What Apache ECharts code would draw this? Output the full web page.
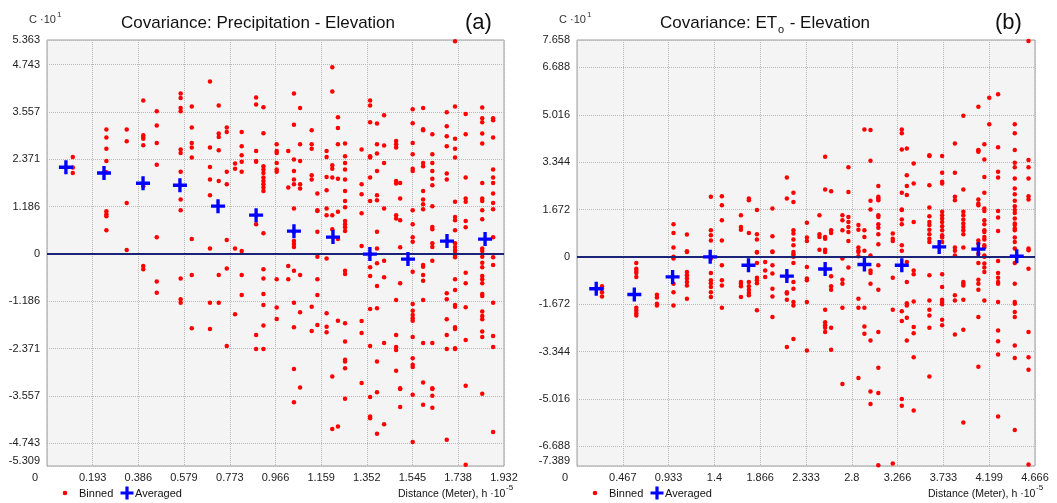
<!DOCTYPE html>
<html><head><meta charset="utf-8">
<script src="https://cdn.jsdelivr.net/npm/echarts@6/dist/echarts.min.js"></script>
<style>html,body{margin:0;padding:0;background:#fff}#c{width:1057px;height:503px}</style>
</head><body><div id="c"></div>
<script>
// ---------- tick labels ----------
const xTicksA = [0, 0.193, 0.386, 0.579, 0.773, 0.966, 1.159, 1.352, 1.545, 1.738, 1.932];
const yTicksA = [-5.309, -4.743, -3.557, -2.371, -1.186, 0, 1.186, 2.371, 3.557, 4.743, 5.363];
const xTicksB = [0, 0.467, 0.933, 1.4, 1.866, 2.333, 2.8, 3.266, 3.733, 4.199, 4.666];
const yTicksB = [-7.389, -6.688, -5.016, -3.344, -1.672, 0, 1.672, 3.344, 5.016, 6.688, 7.658];

// ---------- panel (a): Precipitation - Elevation ----------
// binned points, grouped by lag column: [distance, [covariances...]]
const binnedA = [
  [0.109, [2.43, 2.17, 2.03]],
  [0.251, [3.12, 2.92, 2.64, 2.33, 2.05, 1.075, 1.0, 0.95, 0.6]],
  [0.337, [3.12, 2.825, 1.28, 0.1]],
  [0.407, [3.85, 2.975, 2.93, 2.89, 2.725, 1.7, -0.3, -0.38]],
  [0.464, [3.58, 3.22, 2.78, 2.24, 0.42, -0.69, -0.97]],
  [0.565, [4.02, 3.91, 3.66, 3.58, 2.62, 2.53, 2.06, 1.37, 1.1, -0.61, -1.13, -1.22]],
  [0.612, [3.7, 3.17, 2.78, 2.67, 2.42, 0.375, -0.525, -1.86]],
  [0.689, [4.325, 2.67, 2.18, 1.87, 1.475, 0.14, -1.22, -1.88]],
  [0.726, [3.725, 3.02, 2.93, 2.6, 1.83, -0.525, -1.22]],
  [0.760, [3.17, 3.06, 2.06, 1.75, 0.35, -0.36, -2.3]],
  [0.795, [2.27, 2.14, 0.14, -1.51]],
  [0.823, [3.06, 2.7, 2.475, 2.31, 2.06, 0.08, -0.525, -1.025]],
  [0.884, [3.925, 3.75, 2.58, 2.33, 2.31, 0.75, -2.03, -2.38]],
  [0.915, [3.68, 3.03, 2.2, 2.12, 2.03, 1.92, 1.83, 1.75, 1.67, 1.58, 0.52, -0.38, -0.61, -1.0, -1.275, -1.79, -2.38]],
  [0.971, [2.75, 2.58, 2.53, 2.28, 2.12, 2.06, -0.63, -1.34, -1.625]],
  [1.020, [2.58, 1.67, -0.3, -0.63]],
  [1.044, [4.02, 3.24, 2.37, 2.08, 1.87, 1.75, 1.14, 0.56, 0.33, 0.25, 0.18, -0.42, -1.22, -1.83, -2.88, -3.71]],
  [1.070, [3.66, 2.75, 2.33, 1.75, 1.64, -0.525, -1.46, -3.34]],
  [1.119, [3.1, 2.75, 2.64, 1.975, 1.87, -1.32, -1.925]],
  [1.143, [1.52, 1.1, 1.08, 0.56, -0.07, -0.63, -1.025, -1.775]],
  [1.182, [2.58, 2.43, 1.93, 1.6, 1.14, 0.975, -0.11, -1.48, -1.82, -1.96]],
  [1.206, [4.68, 4.075, 2.225, 2.14, 1.92, 0.975, 0.62, -3.07, -4.38]],
  [1.230, [3.43, 3.16, 2.75, 1.89, 1.06, 0.375, -1.67, -4.32]],
  [1.260, [2.77, 2.45, 2.28, 2.12, 1.87, 1.58, 1.33, 1.17, 0.83, 0.75, 0.67, 0.58, -0.42, -0.5, -1.73, -2.19, -2.65, -2.69, -2.86, -3.625]],
  [1.330, [2.62, 1.75, 1.5, 1.02, 0.2, -1.675, -1.98, -3.23]],
  [1.366, [3.85, 3.725, 3.3, 2.45, 2.42, 1.92, 1.33, 0, -0.33, -0.55, -1.375, -2.3, -3.58, -4.07, -4.11]],
  [1.395, [3.27, 2.75, 2.52, 2.08, 1.475, 1.35, 0.56, 0.14, -0.23, -0.8, -1.36, -2.69, -3.46, -4.5]],
  [1.425, [3.475, 2.72, 2.28, 1.14, -0.17, -0.58, -2.23, -4.26]],
  [1.476, [2.83, 2.75, 2.67, 1.83, 1.77, 0.975, 0.89, -1.15, -2.03, -2.33, -2.4, -2.92]],
  [1.493, [1.78, 1.39, 0.85, 0.17, -0.73, -3.36, -3.38, -3.83]],
  [1.546, [3.63, 3.28, 2.78, 2.5, 2.14, 2.08, 1.1, 0.75, 0.42, 0.31, -0.44, -1.25, -1.42, -1.525, -1.61, -1.67, -2.08, -2.61, -2.775, -2.83, -3.525, -4.71]],
  [1.590, [3.66, 3.13, 3.1, 2.28, 2.2, 1.58, 1.37, 1.25, 1.12, -0.275, -0.32, -0.525, -0.67, -1.15, -2.23, -3.775, -3.22]],
  [1.629, [3.0, 2.5, 2.28, 2.08, 1.89, 1.725, 1.2, 0.68, 0.62, 0.27, 0.18, -0.17, -2.23, -3.36, -3.38, -3.55, -3.85]],
  [1.690, [3.55, 3.2, 2.95, 2.7, 2.02, 1.87, -0.98, -1.13, -1.63, -2.03, -2.38, -4.65]],
  [1.725, [5.33, 3.7, 2.89, 2.64, 2.42, 1.31, 0.93, 0.85, 0.6, 0.27, 0.18, 0.08, 0, -0.05, 0.1, -0.08, -0.63, -0.9, -1.275, -1.32, -1.83, -1.88, -2.36, -2.38]],
  [1.770, [3.51, 3.0, 1.92, 1.39, 1.31, 0.83, 0.67, -0.47, -0.73, -1.33, -2.15, -3.3, -5.28]],
  [1.840, [3.67, 3.4, 3.3, 3.02, 2.77, 1.78, 1.39, 1.33, 1.1, 0.87, 0.14, 0.08, -0.07, -0.22, -0.33, -0.55, -0.63, -0.73, -1.0, -1.05, -1.44, -1.55, -1.63, -1.94, -2.08, -3.5]],
  [1.886, [3.4, 3.35, 2.92, 2.12, 1.92, 1.78, 1.52, 1.28, 1.12, 0.42, -0.08, -0.275, -1.22, -2.05, -2.33, -4.46]]
];
const avgXA = [0.080, 0.241, 0.406, 0.562, 0.723, 0.884, 1.044, 1.209, 1.365, 1.526, 1.691, 1.852];
const avgYA = [2.175, 2.03, 1.775, 1.725, 1.2, 0.975, 0.575, 0.425, 0.0, -0.125, 0.325, 0.375];

// ---------- panel (b): ETo - Elevation ----------
const binnedB = [
  [0.255, [-1.04, -1.13, -1.25, -1.4]],
  [0.604, [-0.22, -0.42, -0.5, -0.57, -0.71, -1.8, -1.9, -1.99, -2.07]],
  [0.814, [-1.34, -1.44, -1.66, -1.72]],
  [0.983, [1.15, 0.84, 0.33, 0.0, -0.06, -0.95, -1.25, -1.72]],
  [1.120, [0.79, 0.2, 0.17, -0.54, -0.65, -0.77, -0.89, -1.01, -1.48]],
  [1.364, [2.12, 0.94, 0.76, 0.58, -0.06, -0.57, -0.83, -0.93, -1.07, -1.25, -1.42]],
  [1.476, [2.14, 1.82, 1.29, 0.58, -0.3, -0.83, -1.01, -1.8]],
  [1.670, [1.47, 1.05, 0.96, -0.89, -0.95, -1.04, -1.42]],
  [1.751, [2.06, 2.0, 0.84, -0.89, -1.04, -1.16, -1.28, -1.36]],
  [1.833, [1.65, 0.8, 0.61, 0.15, 0.17, -0.22, -0.74, -0.83, -0.93, -1.89]],
  [1.917, [-0.18, -0.48, -0.71]],
  [1.991, [1.71, 0.73, 0.19, 0.17, -0.3, -0.59, -1.13, -1.4, -2.13]],
  [2.138, [2.8, 2.06, -0.71, -1.25, -1.3, -1.52, -3.19]],
  [2.205, [2.26, 1.94, 0.94, 0.82, 0.61, 0.41, 0.17, 0.0, 0.09, -0.22, -0.89, -1.13, -1.6, -1.72, -2.9]],
  [2.342, [1.2, 0.68, 0.56, -0.36, -0.77, -0.83, -1.6, -3.31]],
  [2.470, [1.47, 0.8, 0.7, 0.25]],
  [2.528, [3.53, 2.38, 0.7, 0.64, 0.25, 0.17, -1.87, -2.31, -2.42, -2.51, -2.66]],
  [2.589, [2.32, 0.94, 0.84, -0.69, -1.04, -1.16, -2.51, -3.28]],
  [2.704, [1.47, 1.29, 0.94, -0.06, -0.81, -0.95, -1.8, -4.49]],
  [2.765, [3.16, 2.29, 1.41, 1.23, 1.05, 0.88, 0.56, -0.38]],
  [2.867, [1.12, 0.96, 0.33, 0.21, 0.17, 0.02, -1.48, -1.8, -4.28]],
  [2.928, [4.5, 0.94, 0.7, 0.21, -1.8, -2.46, -2.72]],
  [2.990, [4.48, 3.39, 1.98, 1.67, 0.05, -0.48, -0.57, -0.95, -2.96, -4.76, -5.2]],
  [3.070, [2.5, 2.12, 2.06, 2.0, 1.47, 1.41, 1.15, 1.03, 0.8, 0.44, -0.3, -1.16, -2.66, -3.92, -4.81, -7.36]],
  [3.217, [0.82, 0.64, 0.56, -0.74, -1.87, -7.3]],
  [3.309, [4.5, 4.36, 3.79, 2.26, 1.67, 1.65, 1.32, 1.15, 0.41, 0.21, -1.92, -2.27, -5.02, -5.26]],
  [3.360, [3.83, 2.88, 2.5, 2.18, -0.18, -0.89, -1.64, -1.72, -2.15, -2.96]],
  [3.430, [3.3, 2.59, 1.23, -0.48, -0.62, -1.58, -2.48, -2.7, -3.55, -5.43]],
  [3.590, [3.59, 3.56, 2.53, 1.74, 1.43, 1.23, 1.12, 0.96, 0.8, 0.64, 0.52, -0.65, -1.54, -1.87, -2.07, -2.51, -4.23]],
  [3.720, [3.56, 2.97, 2.65, 2.59, 1.59, 1.47, 1.35, 1.23, 1.08, 0.94, 0.76, 0.68, 0.52, -0.62, -1.07, -1.52, -1.6, -1.68, -2.22, -2.42]],
  [3.850, [4.0, 2.97, 2.12, 2.0, 0.33, 0.21, 0.05, -1.36, -1.54, -2.74]],
  [3.936, [4.98, 2.38, 1.59, 1.47, 1.32, 1.18, 1.05, 0.94, 0.8, 0.33, -0.89, -0.95, -1.01, -1.52, -2.58, -5.85]],
  [4.089, [5.3, 3.77, 3.75, 3.71, 2.02, 1.88, 1.82, 0.58, 0.47, 0.11, -0.22, -0.81, -0.95, -1.16, -2.13, -3.88]],
  [4.150, [3.98, 3.44, 2.82, 2.26, 1.71, 1.62, 1.29, 1.15, 0.94, 0.88, 0.7, 0.61, 0.41, 0.33, 0.05, 0.0, -0.24, -0.38, -0.54, -1.54]],
  [4.200, [5.62, 4.68]],
  [4.290, [5.74, 3.87, 3.0, 2.8, 1.62, 1.39, 0.91, -0.15, -0.57, -0.74, -0.89, -0.95, -1.6, -2.6, -2.98, -3.45, -5.64]],
  [4.460, [4.68, 4.36, 3.77, 3.32, 3.16, 2.77, 2.41, 2.21, 1.98, 1.79, 1.65, 1.55, 1.35, 1.18, 1.12, 1.0, 0.94, 0.68, 0.52, 0.29, -0.22, -0.95, -1.6, -1.66, -1.95, -2.13, -3.13, -3.57, -6.12]],
  [4.600, [7.62, 3.42, 3.16, 2.77, 2.14, 2.02, 0.29, 0.23, -0.42, -2.66, -3.55, -3.99, -7.34]]
];
const avgXB = [0.196, 0.584, 0.974, 1.357, 1.747, 2.138, 2.528, 2.928, 3.309, 3.690, 4.089, 4.480];
const avgYB = [-1.13, -1.33, -0.71, 0.0, -0.3, -0.68, -0.43, -0.27, -0.3, 0.35, 0.27, 0.02];

// ---------- build ----------
const FONT = 'Liberation Sans, Arial, sans-serif';
const LBL = '#222';
const PLUS = 'path://M3.8,0H6.2V3.8H10V6.2H6.2V10H3.8V6.2H0V3.8H3.8Z';

function flatten(cols) {
  const out = [];
  cols.forEach(c => c[1].forEach(y => out.push([c[0], y])));
  return out;
}
function zip(xs, ys) { return xs.map((x, i) => [x, ys[i]]); }

function xAxis(gi, ticks) {
  return {
    type: 'value', gridIndex: gi, min: ticks[0], max: ticks[ticks.length - 1],
    axisLine: { show: false }, axisTick: { show: false, customValues: ticks },
    axisLabel: {
      customValues: ticks, margin: 6, fontSize: 11, color: LBL, fontFamily: FONT,
      formatter: v => (v === 0 ? '{z|0}' : String(v)),
      rich: { z: { padding: [0, 24, 0, 0], fontSize: 11, color: LBL, fontFamily: FONT } }
    },
    splitLine: { show: true, lineStyle: { color: '#b9b9b9', type: 'dotted', width: 1 } }
  };
}
function yAxis(gi, ticks) {
  const mn = ticks[0];
  return {
    type: 'value', gridIndex: gi, min: mn, max: ticks[ticks.length - 1],
    axisLine: { show: false }, axisTick: { show: false, customValues: ticks },
    axisLabel: {
      customValues: ticks, margin: 7, fontSize: 11, color: LBL, fontFamily: FONT,
      formatter: v => (v === mn ? '{m|' + v + '}' : String(v)),
      rich: { m: { padding: [0, 0, 10, 0], fontSize: 11, color: LBL, fontFamily: FONT } }
    },
    splitLine: { show: true, lineStyle: { color: '#b9b9b9', type: 'dotted', width: 1 } }
  };
}
function binnedSeries(gi, data) {
  return {
    name: 'Binned', type: 'scatter', xAxisIndex: gi, yAxisIndex: gi, data: data,
    symbol: 'circle', symbolSize: 4.5, itemStyle: { color: '#ff0000', opacity: 1 }, z: 3,
    markLine: {
      silent: true, symbol: ['none', 'none'], label: { show: false },
      lineStyle: { color: '#1b2378', width: 2, type: 'solid', opacity: 1 }, data: [{ yAxis: 0 }]
    }
  };
}
function avgSeries(gi, data) {
  return {
    name: 'Averaged', type: 'scatter', xAxisIndex: gi, yAxisIndex: gi, data: data,
    symbol: PLUS, symbolSize: 14, itemStyle: { color: '#0000ff', opacity: 1 }, z: 5
  };
}
function txt(x, y, s, size, extra) {
  return {
    type: 'text', x: x, y: y,
    style: Object.assign({ text: s, fontSize: size, fontFamily: FONT, fill: '#111', verticalAlign: 'middle', align: 'left' }, extra || {})
  };
}
function plusShape(cx, cy) {
  const a = 6.5, t = 1.6;
  return [[cx - t, cy - a], [cx + t, cy - a], [cx + t, cy - t], [cx + a, cy - t], [cx + a, cy + t], [cx + t, cy + t],
          [cx + t, cy + a], [cx - t, cy + a], [cx - t, cy + t], [cx - a, cy + t], [cx - a, cy - t], [cx - t, cy - t]];
}
function panelText(dx, letter) {
  const g = [];
  g.push(txt(29 + dx, 20, 'C ·10', 11, { fill: '#333' }));
  g.push(txt(57 + dx, 15, '1', 8, { fill: '#333' }));
  g.push(txt(465 + dx, 23, letter, 22));
  // legend
  g.push({ type: 'circle', shape: { cx: 65 + dx, cy: 493, r: 2.3 }, style: { fill: '#ff0000' } });
  g.push(txt(79 + dx, 494, 'Binned', 11));
  g.push({ type: 'polygon', shape: { points: plusShape(127 + dx, 493) }, style: { fill: '#0000ff' } });
  g.push(txt(135 + dx, 494, 'Averaged', 11));
  g.push(txt(398 + dx, 494, 'Distance (Meter), h ·10', 10.5));
  g.push(txt(506 + dx, 488, '-5', 8));
  return g;
}

const graphic = [].concat(panelText(0, '(a)')).concat(panelText(530, '(b)'));
graphic.push(txt(258, 23, 'Covariance: Precipitation - Elevation', 17, { align: 'center' }));
graphic.push(txt(660, 23, 'Covariance: ET', 17));
graphic.push(txt(778, 30, 'o', 11));
graphic.push(txt(785, 23, ' - Elevation', 17));

const chart = echarts.init(document.getElementById('c'), null, { renderer: 'canvas' });
chart.setOption({
  animation: false,
  backgroundColor: '#ffffff',
  grid: [
    { left: 47, top: 40, width: 457, height: 426, show: true, backgroundColor: '#f4f4f4', borderColor: '#9e9e9e', borderWidth: 1, outerBoundsMode: 'none' },
    { left: 577, top: 40, width: 458, height: 426, show: true, backgroundColor: '#f4f4f4', borderColor: '#9e9e9e', borderWidth: 1, outerBoundsMode: 'none' }
  ],
  xAxis: [xAxis(0, xTicksA), xAxis(1, xTicksB)],
  yAxis: [yAxis(0, yTicksA), yAxis(1, yTicksB)],
  series: [
    binnedSeries(0, flatten(binnedA)),
    avgSeries(0, zip(avgXA, avgYA)),
    binnedSeries(1, flatten(binnedB)),
    avgSeries(1, zip(avgXB, avgYB))
  ],
  graphic: graphic
});
</script></body></html>
